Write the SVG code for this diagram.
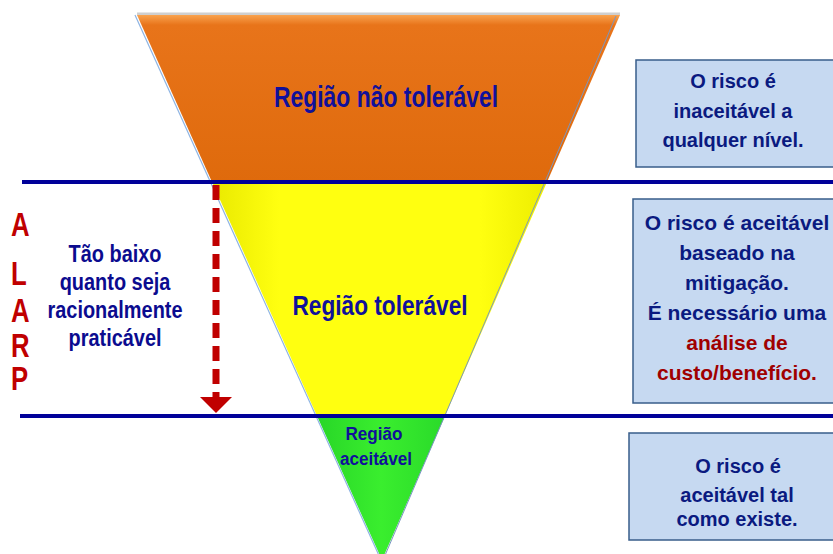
<svg xmlns="http://www.w3.org/2000/svg" width="833" height="554" viewBox="0 0 833 554">
<style>
  text { font-family: "Liberation Sans", Arial, sans-serif; font-weight: bold; }
  .region { fill: #10109A; text-anchor: middle; }
  .side { fill: #0B0B8F; text-anchor: middle; font-size: 24px; }
  .alarp { fill: #C00000; font-size: 33px; }
  .box { fill: #C6D9F1; stroke: #385D8A; stroke-width: 1.5; }
  .boxtext { fill: #0A1A80; text-anchor: middle; }
  .red { fill: #A00000; }
  .level { stroke: #000099; stroke-width: 4; }
</style>
<defs>
  <linearGradient id="gOrange" x1="0" y1="0" x2="0" y2="1">
    <stop offset="0" stop-color="#F9A24E"/>
    <stop offset="0.06" stop-color="#E8741A"/>
    <stop offset="1" stop-color="#DF6A0C"/>
  </linearGradient>
  <linearGradient id="gYellow" x1="0" y1="0" x2="1" y2="0">
    <stop offset="0" stop-color="#E9E900"/>
    <stop offset="0.2" stop-color="#FFFF10"/>
    <stop offset="0.8" stop-color="#FFFF10"/>
    <stop offset="1" stop-color="#EDED00"/>
  </linearGradient>
  <linearGradient id="gGreen" x1="0" y1="0" x2="1" y2="0">
    <stop offset="0" stop-color="#28D628"/>
    <stop offset="0.5" stop-color="#3AEE2E"/>
    <stop offset="1" stop-color="#2ADA2A"/>
  </linearGradient>
  <marker id="arrowHead" viewBox="0 0 32 16" refX="16" refY="16" markerWidth="32" markerHeight="16" markerUnits="userSpaceOnUse" orient="auto-start-reverse">
    <path d="M0,0 L32,0 L16,16 Z" fill="#C00000"/>
  </marker>
</defs>

<g id="triangle">
  <line x1="137" y1="14" x2="620" y2="14" stroke="#B0B0B0" stroke-width="3" opacity="0.6"/>
  <polygon id="orange" points="137,15 620,15 547,182 212,182" fill="url(#gOrange)"/>
  <polygon id="yellow" points="212,182 547,182 445,416 317,416" fill="url(#gYellow)"/>
  <polygon id="green" points="317,416 445,416 382,560" fill="url(#gGreen)"/>
  <line x1="135" y1="15" x2="381" y2="560" stroke="#8EB4E3" stroke-width="1.2"/>
  <line x1="616" y1="16" x2="383" y2="560" stroke="#7A96C0" stroke-width="1"/>
</g>

<g id="connectors">
  <line class="level" x1="22" y1="182" x2="833" y2="182"/>
  <line class="level" x1="20" y1="416" x2="833" y2="416"/>
  <line x1="216" y1="185" x2="216" y2="397" stroke="#C00000" stroke-width="7" stroke-dasharray="15,8"/>
  <polygon points="200,397 232,397 216,413" fill="#C00000"/>
</g>

<g id="region-nao-toleravel">
  <text class="region" font-size="29" transform="translate(386,107) scale(0.79,1)">Região não tolerável</text>
</g>
<g id="region-toleravel">
  <text class="region" font-size="28" transform="translate(380,315) scale(0.81,1)">Região tolerável</text>
</g>
<g id="region-aceitavel">
  <text class="region" font-size="19" transform="translate(374,440) scale(0.9,1)">Região</text>
  <text class="region" font-size="19" transform="translate(376,465) scale(0.9,1)">aceitável</text>
</g>

<g id="alarp">
  <text class="alarp" transform="translate(11,236) scale(0.78,1)">A</text>
  <text class="alarp" transform="translate(11,285) scale(0.78,1)">L</text>
  <text class="alarp" transform="translate(11,322) scale(0.78,1)">A</text>
  <text class="alarp" transform="translate(11,357) scale(0.78,1)">R</text>
  <text class="alarp" transform="translate(11,390) scale(0.78,1)">P</text>
</g>

<g id="alarp-text">
  <text class="side" transform="translate(115,262) scale(0.83,1)">Tão baixo</text>
  <text class="side" transform="translate(115,290) scale(0.83,1)">quanto seja</text>
  <text class="side" transform="translate(115,318) scale(0.83,1)">racionalmente</text>
  <text class="side" transform="translate(115,346) scale(0.83,1)">praticável</text>
</g>

<g id="box-inaceitavel">
  <rect class="box" x="636" y="60" width="205" height="107"/>
  <text class="boxtext" font-size="20" x="733" y="88">O risco é</text>
  <text class="boxtext" font-size="20" x="733" y="118">inaceitável a</text>
  <text class="boxtext" font-size="20" x="733" y="147">qualquer nível.</text>
</g>

<g id="box-toleravel">
  <rect class="box" x="633" y="199" width="208" height="204"/>
  <text class="boxtext" font-size="21" x="737" y="230">O risco é aceitável</text>
  <text class="boxtext" font-size="21" x="737" y="260">baseado na</text>
  <text class="boxtext" font-size="21" x="737" y="290">mitigação.</text>
  <text class="boxtext" font-size="21" x="737" y="320">É necessário uma</text>
  <text class="boxtext red" font-size="21" x="737" y="350">análise de</text>
  <text class="boxtext red" font-size="21" x="737" y="380">custo/benefício.</text>
</g>

<g id="box-aceitavel">
  <rect class="box" x="629" y="433" width="212" height="107"/>
  <text class="boxtext" font-size="20" x="738" y="473">O risco é</text>
  <text class="boxtext" font-size="20" x="737" y="502">aceitável tal</text>
  <text class="boxtext" font-size="20" x="737" y="526">como existe.</text>
</g>
</svg>
